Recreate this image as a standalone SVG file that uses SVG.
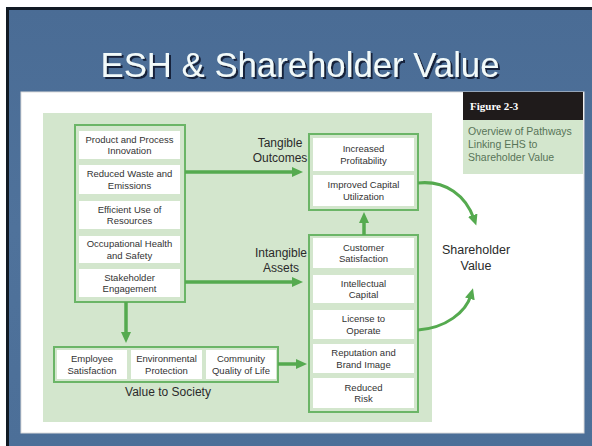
<svg xmlns="http://www.w3.org/2000/svg" width="592" height="446" viewBox="0 0 592 446">
<defs>
<marker id="ah" markerUnits="userSpaceOnUse" markerWidth="12" markerHeight="11" refX="4" refY="5" orient="auto">
<path d="M0,0 L11,5 L0,10 z" fill="#55aa4f"/>
</marker>
<linearGradient id="bg" x1="0" y1="0" x2="0" y2="1">
<stop offset="0" stop-color="#4a6c95"/>
<stop offset="0.5" stop-color="#4f729b"/>
<stop offset="1" stop-color="#4c6f98"/>
</linearGradient>
<filter id="sh" x="-5%" y="-20%" width="110%" height="140%">
<feDropShadow dx="2" dy="2" stdDeviation="0.4" flood-color="#14243a" flood-opacity="1"/>
</filter>
</defs>
<style>
.t{font-family:"Liberation Sans",Arial,sans-serif;font-size:9.5px;fill:#333333;text-anchor:middle}
.lab{font-family:"Liberation Sans",Arial,sans-serif;font-size:12px;fill:#2a2a2a;text-anchor:middle}
.cap{font-family:"Liberation Sans",Arial,sans-serif;font-size:10.5px;fill:#587458}
.ob{fill:none;stroke:#6bb567;stroke-width:2}
.ib{fill:#ffffff}
.ar{fill:none;stroke:#55aa4f;stroke-width:3.5;marker-end:url(#ah)}
.cv{fill:none;stroke:#55aa4f;stroke-width:3;marker-end:url(#ah)}
</style>
<rect x="0" y="0" width="592" height="446" fill="#ffffff"/>
<rect x="6" y="7" width="586" height="439" fill="#111a24"/>
<rect x="9" y="10" width="583" height="436" fill="url(#bg)"/>
<g id="title">
<text x="300" y="77" font-family="Liberation Sans,Arial,sans-serif" font-size="35" fill="#f2fafa" text-anchor="middle" textLength="399" lengthAdjust="spacingAndGlyphs" filter="url(#sh)">ESH &amp; Shareholder Value</text>
</g>
<rect x="21" y="92" width="563" height="341" fill="#ffffff" stroke="#dcdcdc" stroke-width="1"/>
<rect x="43" y="113" width="389" height="309" fill="#d3e6cd"/>
<g id="figure-caption">
<rect x="463" y="92" width="120" height="28" fill="#1f1b1b"/>
<text x="470" y="110" font-family="Liberation Serif,Times New Roman,serif" font-size="11" font-weight="bold" fill="#ffffff">Figure 2-3</text>
<rect x="463" y="120" width="120" height="54" fill="#d3e6cd"/>
<text class="cap" x="468" y="135">Overview of Pathways</text>
<text class="cap" x="468" y="148">Linking EHS to</text>
<text class="cap" x="468" y="161">Shareholder Value</text>
</g>
<g id="drivers">
<rect class="ob" x="75" y="125" width="110" height="177"/>
<rect class="ib" x="79" y="131" width="101" height="28"/>
<text class="t" x="129.5" y="142.5">Product and Process</text><text class="t" x="129.5" y="154">Innovation</text>
<rect class="ib" x="79" y="165" width="101" height="29"/>
<text class="t" x="129.5" y="177">Reduced Waste and</text><text class="t" x="129.5" y="188.5">Emissions</text>
<rect class="ib" x="79" y="201" width="101" height="28"/>
<text class="t" x="129.5" y="212.5">Efficient Use of</text><text class="t" x="129.5" y="224">Resources</text>
<rect class="ib" x="79" y="236" width="101" height="27"/>
<text class="t" x="129.5" y="247">Occupational Health</text><text class="t" x="129.5" y="258.5">and Safety</text>
<rect class="ib" x="79" y="269" width="101" height="28"/>
<text class="t" x="129.5" y="280.5">Stakeholder</text><text class="t" x="129.5" y="292">Engagement</text>
</g>
<g id="tangible">
<text class="lab" x="280" y="147">Tangible</text>
<text class="lab" x="280" y="162">Outcomes</text>
<rect class="ob" x="309" y="134" width="109" height="76"/>
<rect class="ib" x="313" y="138" width="101" height="33"/>
<text class="t" x="363.5" y="152">Increased</text><text class="t" x="363.5" y="163.5">Profitability</text>
<rect class="ib" x="313" y="175" width="101" height="31"/>
<text class="t" x="363.5" y="188">Improved Capital</text><text class="t" x="363.5" y="199.5">Utilization</text>
</g>
<g id="intangible">
<text class="lab" x="281" y="257">Intangible</text>
<text class="lab" x="281" y="272">Assets</text>
<rect class="ob" x="309" y="235" width="109" height="177"/>
<rect class="ib" x="313" y="238" width="101" height="30"/>
<text class="t" x="363.5" y="250.5">Customer</text><text class="t" x="363.5" y="262">Satisfaction</text>
<rect class="ib" x="313" y="275" width="101" height="28"/>
<text class="t" x="363.5" y="286.5">Intellectual</text><text class="t" x="363.5" y="298">Capital</text>
<rect class="ib" x="313" y="310" width="101" height="29"/>
<text class="t" x="363.5" y="322">License to</text><text class="t" x="363.5" y="333.5">Operate</text>
<rect class="ib" x="313" y="344" width="101" height="29"/>
<text class="t" x="363.5" y="356">Reputation and</text><text class="t" x="363.5" y="367.5">Brand Image</text>
<rect class="ib" x="313" y="378" width="101" height="30"/>
<text class="t" x="363.5" y="390.5">Reduced</text><text class="t" x="363.5" y="402">Risk</text>
</g>
<g id="society">
<rect class="ob" x="54" y="347" width="224" height="35"/>
<rect class="ib" x="57" y="350" width="70" height="29"/>
<text class="t" x="92" y="362">Employee</text><text class="t" x="92" y="373.5">Satisfaction</text>
<rect class="ib" x="131" y="350" width="71" height="29"/>
<text class="t" x="166.5" y="362">Environmental</text><text class="t" x="166.5" y="373.5">Protection</text>
<rect class="ib" x="206" y="350" width="70" height="29"/>
<text class="t" x="241" y="362">Community</text><text class="t" x="241" y="373.5">Quality of Life</text>
<text class="lab" x="168" y="396">Value to Society</text>
</g>
<g id="shareholder">
<text class="lab" x="476" y="254" style="font-size:12.5px">Shareholder</text>
<text class="lab" x="476" y="270" style="font-size:12.5px">Value</text>
</g>
<g id="connectors">
<line class="ar" x1="185" y1="172" x2="296" y2="172"/>
<line class="ar" x1="185" y1="282" x2="296" y2="282"/>
<line class="ar" x1="126" y1="302" x2="126" y2="336"/>
<line class="ar" x1="278" y1="364" x2="300" y2="364"/>
<line class="ar" x1="364" y1="235" x2="364" y2="219"/>
<path class="cv" d="M418,183 C446,180 466,196 474,219"/>
<path class="cv" d="M418,330 C446,328 466,312 471,295"/>
</g>
</svg>
